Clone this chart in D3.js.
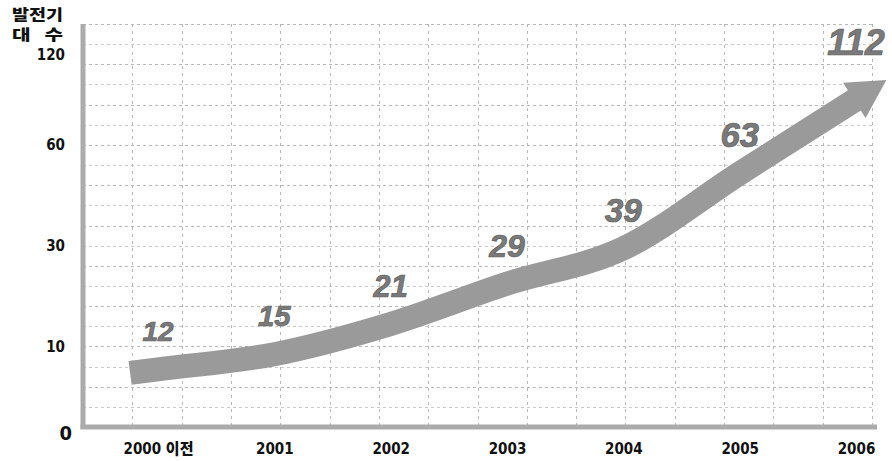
<!DOCTYPE html>
<html>
<head>
<meta charset="utf-8">
<script src="https://cdn.jsdelivr.net/npm/d3@7"></script>
<style>
  html, body { margin: 0; padding: 0; background: #fff; }
  svg { display: block; }
</style>
</head>
<body>
<svg id="chart" width="892" height="461"></svg>
<script>
// Number of generators per year
const years = ["2000 이전", "2001", "2002", "2003", "2004", "2005", "2006"];
const counts = [12, 15, 21, 29, 39, 63, 112];

// Labelled values on the vertical axis and the grid row each one sits on
const yTickValues = [0, 10, 30, 60, 120];
const yTickRows = [0, 4, 9, 14, 18.5];

const yTitle = ["발전기", "대   수"];

const svg = d3.select("#chart");

const plotLeft = 83, plotRight = 872, plotTop = 24, plotBottom = 427;
const gridCols = 16, gridRows = 20;

const gx = d3.scaleLinear().domain([0, gridCols]).range([plotLeft, plotRight]);
const gy = d3.scaleLinear().domain([0, gridRows]).range([plotBottom, plotTop]);

// piecewise value scale: each labelled value pinned to its grid row
const y = d3.scaleLinear().domain(yTickValues).range(yTickRows.map(gy));
const x = d3.scalePoint().domain(years).range([158, 856]);

const tickFont = "'DejaVu Sans Condensed', 'DejaVu Sans', sans-serif";
const cjkFont = "'Noto Sans CJK KR', 'DejaVu Sans', sans-serif";

// background grid
const grid = svg.append("g")
  .attr("fill", "none")
  .attr("stroke-width", 1);

grid.selectAll("line.h")
  .data(d3.range(1, gridRows + 1))
  .join("line")
  .attr("class", "h")
  .attr("x1", plotLeft)
  .attr("x2", plotRight)
  .attr("y1", d => Math.round(gy(d)) + 0.5)
  .attr("y2", d => Math.round(gy(d)) + 0.5)
  .attr("stroke", (d, i) => i % 2 ? "#b8b8b8" : "#cacaca")
  .attr("stroke-dasharray", "3,3");

grid.selectAll("line.v")
  .data(d3.range(1, gridCols + 1))
  .join("line")
  .attr("class", "v")
  .attr("x1", d => Math.round(gx(d)) + 0.5)
  .attr("x2", d => Math.round(gx(d)) + 0.5)
  .attr("y1", plotTop)
  .attr("y2", plotBottom)
  .attr("stroke", "#b8b8b8")
  .attr("stroke-dasharray", "3,4");

// heavy frame on the left and bottom
svg.append("line")
  .attr("x1", plotLeft).attr("x2", plotLeft)
  .attr("y1", plotTop).attr("y2", plotBottom + 2)
  .attr("stroke", "#ababab").attr("stroke-width", 5);
svg.append("line")
  .attr("x1", plotLeft - 2.5).attr("x2", plotRight + 5)
  .attr("y1", plotBottom).attr("y2", plotBottom)
  .attr("stroke", "#ababab").attr("stroke-width", 5);

// vertical axis labels
const yAxis = svg.append("g")
  .attr("transform", `translate(${plotLeft},0)`)
  .call(d3.axisLeft(y).tickValues(yTickValues).tickSize(0).tickPadding(18).tickFormat(d3.format("d")));
yAxis.select(".domain").remove();
yAxis.selectAll("text")
  .attr("font-family", tickFont)
  .attr("font-size", 15)
  .attr("font-weight", "bold")
  .attr("fill", "#111");
yAxis.selectAll(".tick").filter(d => d === 0).select("text")
  .attr("font-size", 20)
  .attr("x", -11)
  .attr("dy", "0.62em");

// horizontal axis labels
const xAxis = svg.append("g")
  .attr("transform", `translate(0,${plotBottom})`)
  .call(d3.axisBottom(x).tickSize(0).tickPadding(16));
xAxis.select(".domain").remove();
xAxis.selectAll("text")
  .attr("font-family", `'DejaVu Sans Condensed', 'Noto Sans CJK KR', sans-serif`)
  .attr("font-size", 15)
  .attr("font-weight", 900)
  .attr("fill", "#111");

// axis title
svg.selectAll("text.ytitle")
  .data(yTitle)
  .join("text")
  .attr("class", "ytitle")
  .attr("x", 12)
  .attr("y", (d, i) => 20 + i * 20)
  .attr("textLength", 51)
  .attr("lengthAdjust", "spacingAndGlyphs")
  .attr("font-family", cjkFont)
  .attr("font-size", 15)
  .attr("font-weight", 900)
  .attr("fill", "#111")
  .style("white-space", "pre")
  .text(d => d);

// growth arrow, running just beneath the values it carries
const arrowOffset = 33;
const pts = counts.map((v, i) => [x(years[i]), y(v) + arrowOffset]);
const tail = x.step() * 0.24;
const slope0 = (pts[1][1] - pts[0][1]) / (pts[1][0] - pts[0][0]);
const tailPt = [pts[0][0] - tail, pts[0][1] - slope0 * tail];

const arrowColor = "#9a9a9a";
const shaft = svg.append("path")
  .datum([tailPt, ...pts])
  .attr("d", d3.line().curve(d3.curveMonotoneX))
  .attr("fill", "none")
  .attr("stroke", arrowColor)
  .attr("stroke-width", 24)
  .attr("stroke-linecap", "butt");

// arrow head oriented along the end of the shaft
const shaftNode = shaft.node();
const shaftLen = shaftNode.getTotalLength();
const pEnd = shaftNode.getPointAtLength(shaftLen);
const pPrev = shaftNode.getPointAtLength(shaftLen - 8);
let ux = pEnd.x - pPrev.x, uy = pEnd.y - pPrev.y;
const un = Math.hypot(ux, uy); ux /= un; uy /= un;
const nx = -uy, ny = ux;
const headLen = 36, headHalf = 21;
const bx = pEnd.x - ux * 2, by = pEnd.y - uy * 2;
const tip = [pEnd.x + ux * headLen, pEnd.y + uy * headLen];
svg.append("path")
  .attr("d", d3.line()([
    [bx + nx * headHalf, by + ny * headHalf],
    tip,
    [bx - nx * headHalf, by - ny * headHalf]
  ]) + "Z")
  .attr("fill", arrowColor);

// value labels above the arrow; the last one sits over the arrowhead
const labelGap = 38;
const fontSize = d3.scaleLinear().domain([0, counts.length - 1]).range([28, 36]);
svg.selectAll("text.val")
  .data(counts)
  .join("text")
  .attr("class", "val")
  .attr("x", (d, i) => x(years[i]))
  .attr("y", (d, i) => (i === counts.length - 1 ? tip[1] : pts[i][1]) - labelGap)
  .attr("dy", "0.35em")
  .attr("text-anchor", "middle")
  .attr("font-family", "'Liberation Sans', Arial, sans-serif")
  .attr("font-weight", "bold")
  .attr("font-style", "italic")
  .attr("font-size", (d, i) => fontSize(i))
  .attr("fill", "#7a7a7a")
  .attr("stroke", "#5c5c5c")
  .attr("stroke-width", 0.7)
  .text(d => d);
</script>
</body>
</html>
